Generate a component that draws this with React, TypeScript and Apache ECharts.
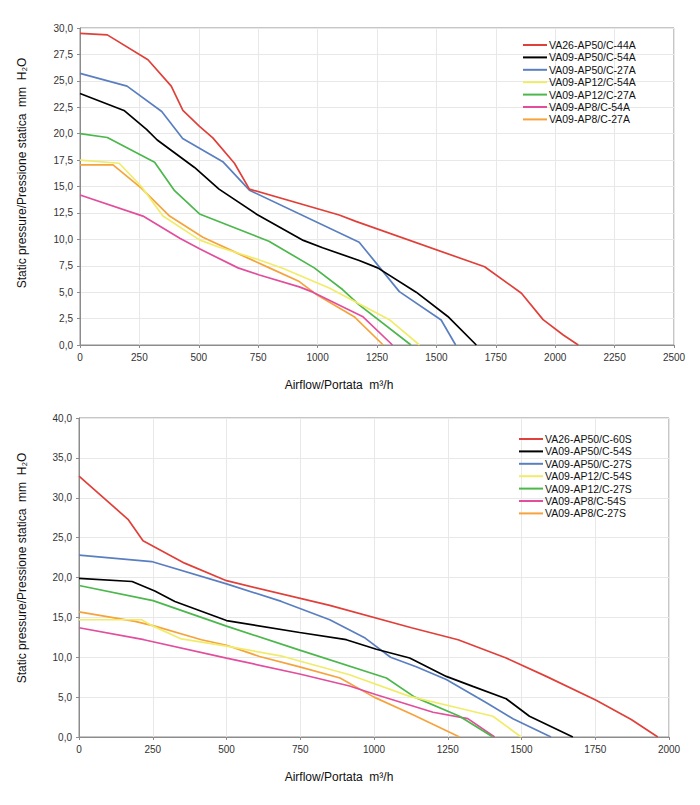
import React, { useEffect, useRef } from 'react';
import * as echarts from 'echarts';

// upper chart (series A)
const topNames = [
  'VA26-AP50/C-44A',
  'VA09-AP50/C-54A',
  'VA09-AP50/C-27A',
  'VA09-AP12/C-54A',
  'VA09-AP12/C-27A',
  'VA09-AP8/C-54A',
  'VA09-AP8/C-27A',
];
const top44A = [[0, 29.5], [115, 29.35], [286, 27.0], [384, 24.5], [433, 22.2], [503, 20.7], [559, 19.6], [650, 17.2], [713, 14.75], [1091, 12.3], [1161, 11.7], [1703, 7.4], [1858, 4.9], [1949, 2.4], [2034, 0.95], [2097, 0]];
const top54A = [[0, 23.8], [185, 22.2], [280, 20.4], [325, 19.4], [482, 16.8], [585, 14.75], [745, 12.35], [940, 9.9], [1021, 9.2], [1175, 8.0], [1253, 7.3], [1415, 5.0], [1548, 2.7], [1668, 0]];
const top27A = [[0, 25.7], [198, 24.5], [344, 22.1], [432, 19.55], [601, 17.35], [713, 14.65], [1175, 9.73], [1344, 5.05], [1520, 2.37], [1581, 0]];
const top54A12 = [[0, 17.5], [165, 17.2], [258, 15.0], [349, 12.2], [503, 9.95], [580, 9.3], [755, 8.05], [853, 7.27], [1049, 5.4], [1302, 2.4], [1429, 0]];
const top27A12 = [[0, 20.0], [115, 19.64], [314, 17.3], [398, 14.6], [503, 12.4], [795, 9.82], [986, 7.3], [1105, 5.25], [1175, 3.8], [1393, 0]];
const top54A8 = [[0, 14.2], [265, 12.2], [420, 10.1], [503, 9.1], [665, 7.3], [755, 6.63], [923, 5.5], [980, 5.0], [1189, 2.7], [1315, 0]];
const top27A8 = [[0, 17.05], [139, 17.05], [258, 14.84], [377, 12.2], [517, 10.2], [671, 8.6], [797, 7.3], [923, 6.0], [1000, 4.7], [1154, 2.68], [1276, 0]];

// lower chart (series S)
const bottomNames = [
  'VA26-AP50/C-60S',
  'VA09-AP50/C-54S',
  'VA09-AP50/C-27S',
  'VA09-AP12/C-54S',
  'VA09-AP12/C-27S',
  'VA09-AP8/C-54S',
  'VA09-AP8/C-27S',
];
const bot60S = [[0, 32.7], [166, 27.3], [217, 24.6], [358, 21.8], [500, 19.6], [850, 16.5], [1127, 13.7], [1285, 12.2], [1448, 9.9], [1584, 7.6], [1753, 4.6], [1872, 2.2], [1962, 0]];
const bot54S = [[0, 19.9], [180, 19.5], [257, 18.3], [325, 17.0], [500, 14.6], [748, 13.1], [906, 12.2], [1008, 11.0], [1121, 9.9], [1245, 7.6], [1335, 6.35], [1448, 4.8], [1527, 2.6], [1674, 0]];
const bot27S = [[0, 22.8], [246, 22.0], [500, 19.2], [686, 17.0], [850, 14.7], [970, 12.4], [1056, 10.0], [1143, 8.8], [1245, 7.2], [1381, 4.3], [1471, 2.3], [1600, 0]];
const bot54S12 = [[0, 14.7], [212, 14.7], [251, 13.9], [347, 12.3], [500, 11.4], [692, 10.1], [917, 7.8], [1121, 5.1], [1290, 3.6], [1403, 2.6], [1499, 0]];
const bot27S12 = [[0, 19.0], [251, 17.1], [500, 13.9], [748, 10.9], [1042, 7.4], [1138, 5.0], [1290, 2.6], [1403, 0]];
const bot54S8 = [[0, 13.7], [220, 12.2], [500, 9.9], [748, 7.9], [917, 6.4], [1008, 5.3], [1200, 3.1], [1318, 2.3], [1409, 0]];
const bot27S8 = [[0, 15.7], [190, 14.5], [257, 13.9], [415, 12.2], [500, 11.5], [612, 10.1], [748, 8.8], [885, 7.4], [1000, 5.0], [1132, 2.8], [1290, 0]];

const colors = ['#e0403a', '#000000', '#5a7fc0', '#f0ec6a', '#4cb74c', '#e24d9c', '#f5a33c'];

const xAxisName = 'Airflow/Portata  m³/h';
const yAxisName = 'Static pressure/Pressione statica  mm  H₂O';

const font = 'Liberation Sans, Arial, sans-serif';

const App: React.FC = () => {
  const chartRef = useRef<HTMLDivElement>(null);

  useEffect(() => {
    if (!chartRef.current) return;
    const chart = echarts.init(chartRef.current, null, { renderer: 'svg' });

    const xAxisBase = {
      type: 'value',
      axisLine: { show: true, lineStyle: { color: '#8c8c8c', width: 1 } },
      axisTick: { show: true, length: 3, lineStyle: { color: '#8c8c8c' } },
      axisLabel: { color: '#333', fontSize: 10, fontFamily: font, margin: 7, formatter: (v: number) => String(v) },
      splitLine: { show: true, lineStyle: { color: '#e8e8e8' } },
    };
    const yAxisBase = {
      type: 'value',
      axisLine: { show: true, lineStyle: { color: '#8c8c8c', width: 1 } },
      axisTick: { show: true, length: 3, lineStyle: { color: '#8c8c8c' } },
      axisLabel: {
        color: '#333',
        fontSize: 10,
        fontFamily: font,
        margin: 7,
        formatter: (v: number) => v.toFixed(1).replace('.', ','),
      },
      splitLine: { show: true, lineStyle: { color: '#e8e8e8' } },
    };

    const topData = [top44A, top54A, top27A, top54A12, top27A12, top54A8, top27A8];
    const botData = [bot60S, bot54S, bot27S, bot54S12, bot27S12, bot54S8, bot27S8];

    const makeSeries = (names: string[], data: number[][][], idx: number) =>
      names.map((name, i) => ({
        name,
        type: 'line',
        xAxisIndex: idx,
        yAxisIndex: idx,
        data: data[i],
        symbol: 'none',
        lineStyle: { color: colors[i], width: 1.7 },
        itemStyle: { color: colors[i] },
        z: 10 - i,
      }));

    const legendBase = {
      orient: 'vertical',
      icon: 'rect',
      itemWidth: 24,
      itemHeight: 2,
      itemGap: 0.4,
      textStyle: { fontSize: 10.5, fontFamily: font, color: '#111', lineHeight: 12, padding: [0, 0, 0, -3] },
      selectedMode: false,
    };

    const option = {
      animation: false,
      grid: [
        { left: 80, top: 28, width: 594, height: 317, show: true, borderColor: '#8c8c8c', borderWidth: 1 },
        { left: 79, top: 418, width: 590, height: 319, show: true, borderColor: '#8c8c8c', borderWidth: 1 },
      ],
      xAxis: [
        { ...xAxisBase, gridIndex: 0, min: 0, max: 2500, interval: 250 },
        { ...xAxisBase, gridIndex: 1, min: 0, max: 2000, interval: 250 },
      ],
      yAxis: [
        { ...yAxisBase, gridIndex: 0, min: 0, max: 30, interval: 2.5 },
        { ...yAxisBase, gridIndex: 1, min: 0, max: 40, interval: 5 },
      ],
      legend: [
        { ...legendBase, data: topNames, left: 518, top: 34 },
        { ...legendBase, data: bottomNames, left: 514, top: 428 },
      ],
      graphic: [
        { type: 'text', x: 339, y: 385, style: { text: xAxisName, font: `12px ${font}`, fill: '#111', textAlign: 'center', textVerticalAlign: 'middle' } },
        { type: 'text', x: 339, y: 777, style: { text: xAxisName, font: `12px ${font}`, fill: '#111', textAlign: 'center', textVerticalAlign: 'middle' } },
        { type: 'text', x: 22, y: 173, rotation: Math.PI / 2, style: { text: yAxisName, font: `12px ${font}`, fill: '#111', textAlign: 'center', textVerticalAlign: 'middle' } },
        { type: 'text', x: 22, y: 568, rotation: Math.PI / 2, style: { text: yAxisName, font: `12px ${font}`, fill: '#111', textAlign: 'center', textVerticalAlign: 'middle' } },
      ],
      series: [...makeSeries(topNames, topData, 0), ...makeSeries(bottomNames, botData, 1)],
    };

    chart.setOption(option);
    return () => chart.dispose();
  }, []);

  return (
    <div
      ref={chartRef}
      style={{ position: 'absolute', left: 0, top: 0, width: '700px', height: '805px', background: '#fff' }}
    />
  );
};

export default App;
